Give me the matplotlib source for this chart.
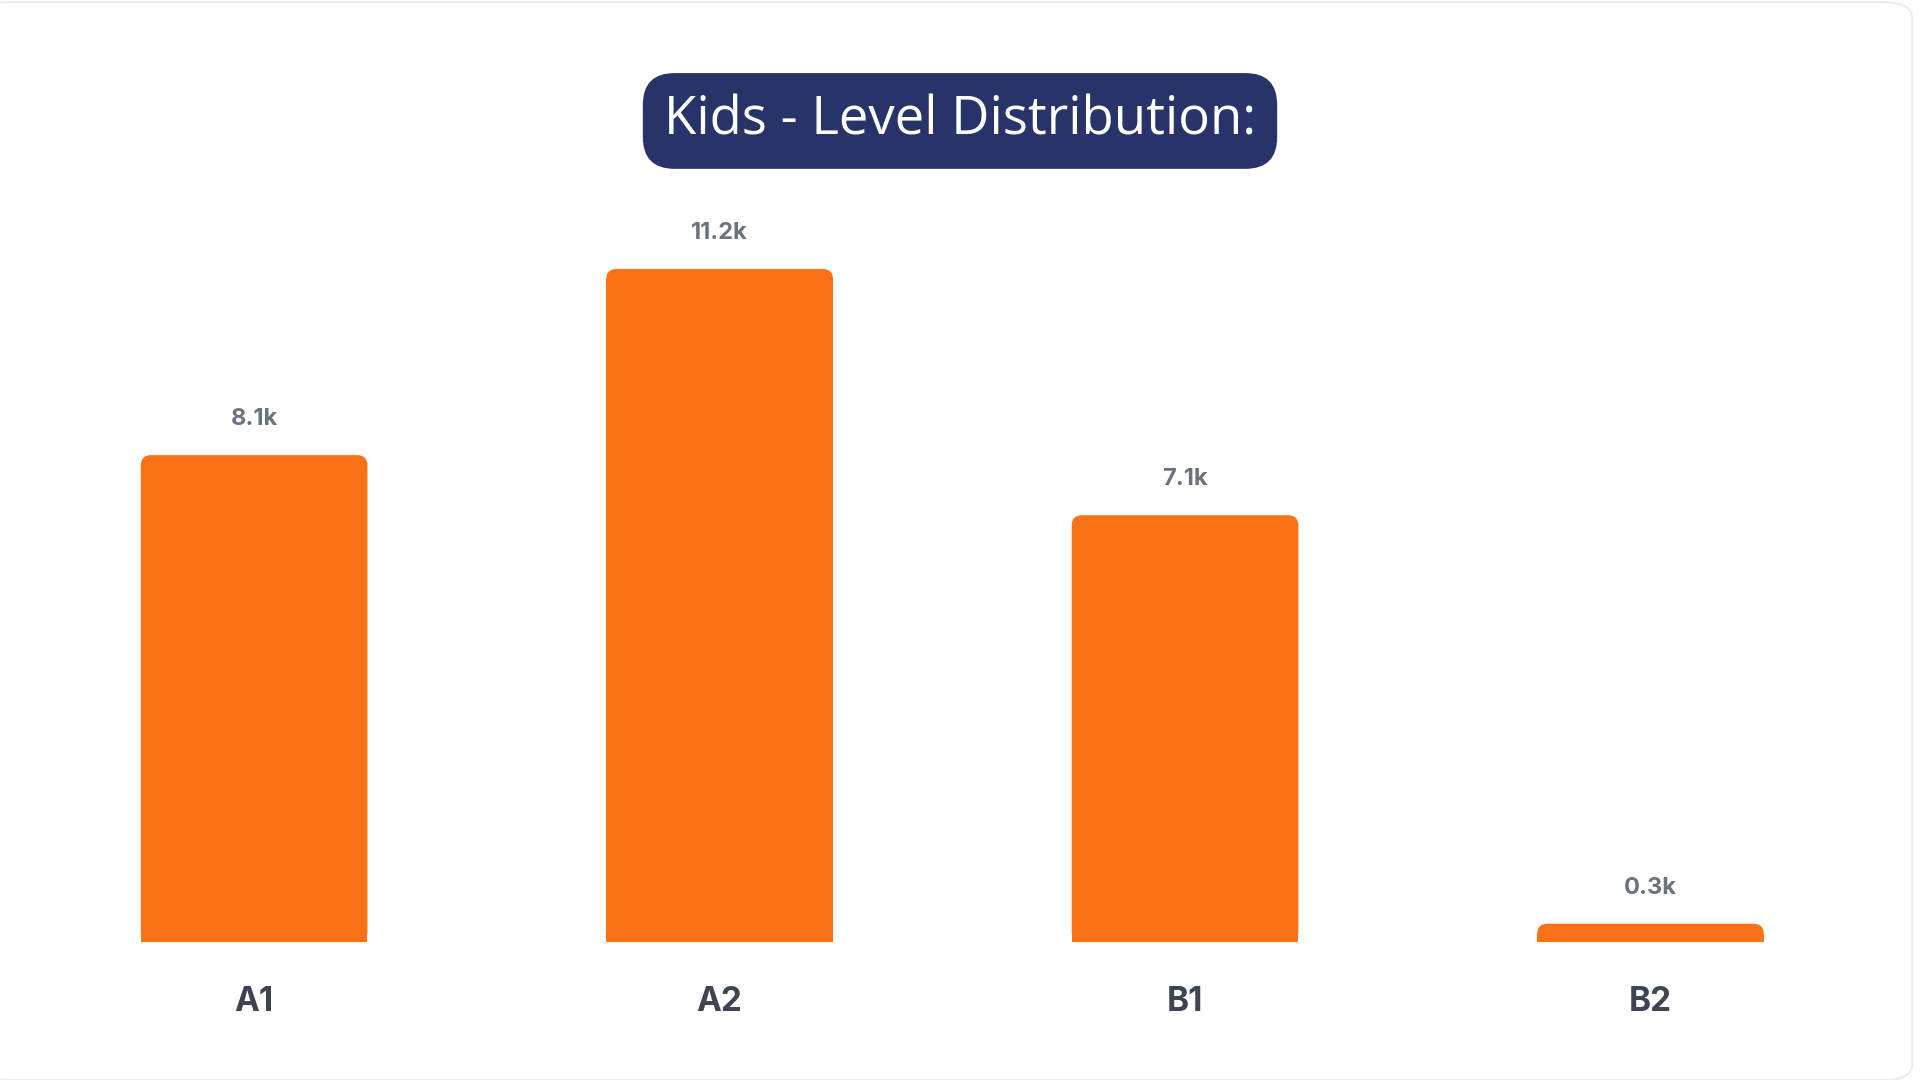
import matplotlib
matplotlib.use("Agg")
import matplotlib.pyplot as plt
from matplotlib.patches import FancyBboxPatch

categories = ["A1", "A2", "B1", "B2"]
values = [8.1, 11.2, 7.1, 0.3]
labels = ["8.1k", "11.2k", "7.1k", "0.3k"]
title = "Kids - Level Distribution:"

BAR = "#f97316"
fig = plt.figure(figsize=(19.2, 10.8), dpi=100)
fig.patch.set_facecolor("white")

# card frame
frame = FancyBboxPatch((-0.01, 0.0), 1.006, 0.998, boxstyle="round,pad=0,rounding_size=0.015",
                       transform=fig.transFigure, facecolor="white", edgecolor="#ececec", lw=1.5,
                       zorder=-10)
fig.patches.append(frame)

ax = fig.add_axes([0.0, 0.128, 1.0, 0.623])
ax.set_zorder(5)
ax.patch.set_alpha(0)
ax.set_xlim(-0.546, 3.579)
ax.set_ylim(0, 11.2)
ax.axis("off")

w = 0.487
rx = 0.022
asp = (0.2425 * 1920) / (0.623 * 1080 / 11.2)
ry = rx * asp
for i, v in enumerate(values):
    ax.bar(i, max(v - ry, 0), width=w, color=BAR, edgecolor="none")
    p = FancyBboxPatch((i - w / 2 + rx, 0 + ry), w - 2 * rx, v - 2 * ry,
                       boxstyle=f"round,pad={rx},rounding_size={rx}",
                       mutation_aspect=asp, facecolor=BAR, edgecolor="none")
    ax.add_patch(p)
    ax.annotate(labels[i], (i, v), xytext=(0, 18), textcoords="offset points",
                ha="center", va="bottom", fontsize=17, fontweight="bold",
                color="#6b7280", family="Inter")
    ax.annotate(categories[i], (i, 0), xytext=(0, -32), textcoords="offset points",
                ha="center", va="top", fontsize=24, fontweight="bold",
                color="#3f4452", family="Inter")

fig.text(0.5, 0.888, title, ha="center", va="center", fontsize=38, color="white",
         family="Open Sans", zorder=10,
         bbox=dict(boxstyle="round,pad=0.4,rounding_size=0.6", facecolor="#283469",
                   edgecolor="none"))

fig.savefig("out.png", dpi=100, facecolor="white")
